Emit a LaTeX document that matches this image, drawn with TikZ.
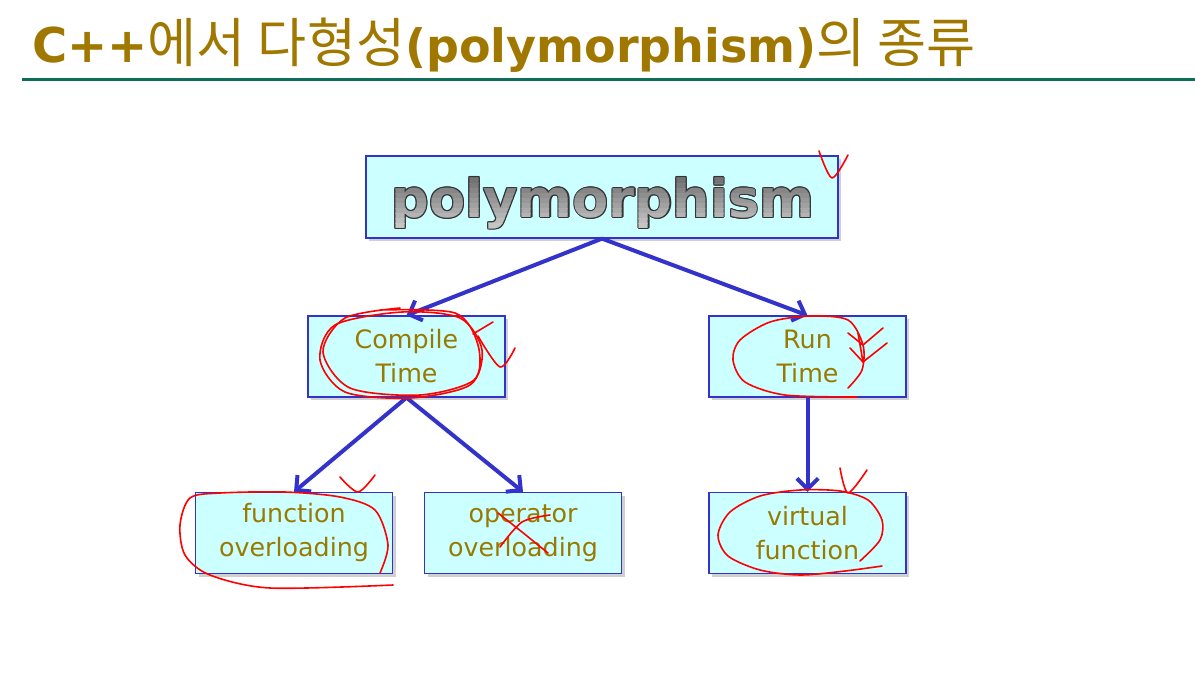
\documentclass[tikz,border=0pt]{standalone}
\usepackage{fontspec}
\setmainfont{DejaVu Sans}
\newfontfamily\krfont{Noto Sans CJK KR}
\usetikzlibrary{arrows.meta,shadows,calc}
\definecolor{titlegold}{RGB}{160,120,0}
\definecolor{boxtext}{RGB}{153,122,0}
\definecolor{boxfill}{RGB}{204,255,255}
\definecolor{boxline}{RGB}{51,51,204}
\definecolor{rulegreen}{RGB}{14,110,90}
\definecolor{arrowblue}{RGB}{51,51,204}
\newcommand\polyfont{\fontsize{39.5}{44}\selectfont\bfseries}
\newcommand\kr[1]{{\krfont\fontsize{40}{44}\selectfont #1}}

\tikzset{
  ybox/.style={draw=boxline, line width=0.9pt, fill=boxfill,
    minimum width=147.75pt, minimum height=60.75pt, inner sep=0pt,
    text=boxtext, font=\fontsize{19}{25.5}\selectfont, align=center,
    drop shadow={shadow xshift=2.5pt, shadow yshift=-2.5pt, opacity=.3, fill=black!60}},
  conn/.style={draw=arrowblue, line width=3pt, -{Straight Barb[length=8pt,width=16pt]}},
  redmark/.style={draw=red, line width=1.2pt, line cap=round, line join=round},
  polytxt/.style={inner sep=0pt, font=\polyfont},
}

\begin{document}
\begin{tikzpicture}[x=0.75pt, y=-0.75pt]
\useasboundingbox (0,0) rectangle (1195,693);
\fill[white] (0,0) rectangle (1195,693);

% title
\node[anchor=base west, inner sep=0pt, text=titlegold, font=\fontsize{36}{40}\selectfont] (title) at (32,62)
  {\textbf{C++}\kr{에서 다형성}{\fontsize{34.5}{40}\selectfont\bfseries(polymorphism)}\kr{의 종류}};
\fill[rulegreen] (22,77.5) rectangle (1195,81);

% top box
\node[ybox, minimum width=354pt, minimum height=61.5pt] (poly) at (602,197) {};
\coordinate (polytext) at (603,203);
\foreach \a in {0,45,...,315}
  \node[polytxt, text=black!80] at ($(polytext)+(\a:1.1)$) {polymorphism};
\foreach \i in {0,...,12}{
  \pgfmathsetmacro\shade{62-3.6*\i}
  \begin{scope}
    \clip (340,{168+5*\i}) rectangle (870,{173.3+5*\i});
    \node[polytxt, text=black!\shade] at (polytext) {polymorphism};
  \end{scope}
}

% boxes
\node[ybox] (comp) at (406.5,356.5) {Compile\\Time};
\node[ybox] (run) at (807.5,356.5) {Run\\Time};
\node[ybox] (func) at (294,533) {function\\overloading};
\node[ybox] (oper) at (523,533) {operator\\overloading};
\node[ybox] (virt) at (807.5,533) {virtual\\function};

% connectors
\draw[conn] (poly.south) -- (comp.north);
\draw[conn] (poly.south) -- (run.north);
\draw[conn] (comp.south) -- (func.north);
\draw[conn] (comp.south) -- (oper.north);
\draw[conn] (run.south) -- (virt.north);

% hand-drawn red marks
\draw[redmark] plot[smooth] coordinates {(819,151) (832,178) (848,155)};
\draw[redmark] plot[smooth cycle] coordinates {(402,312) (460,318) (482,350) (470,385) (410,398) (345,392) (320,360) (335,325)};
\draw[redmark] plot[smooth] coordinates {(380,310) (455,313) (478,345) (474,380) (420,395) (350,388) (323,352) (345,318) (400,308)};
\draw[redmark] (473,334) -- (493,322);
\draw[redmark] plot[smooth] coordinates {(478,336) (500,367) (515,348)};
\draw[redmark] plot[smooth] coordinates {(848,388) (862,370) (863,345) (848,320) (810,316) (770,322) (740,340) (733,360) (745,382) (785,395) (857,397)};
\draw[redmark] (848,333) -- (863,345) -- (883,328);
\draw[redmark] (850,348) -- (863,362) -- (887,343);
\draw[redmark] (858,333) -- (863,362);
\draw[redmark] plot[smooth] coordinates {(380,573) (388,545) (375,510) (340,497) (285,492) (220,493) (190,498) (180,525) (185,555) (210,575) (270,588) (393,585)};
\draw[redmark] plot[smooth] coordinates {(340,477) (358,492) (375,475)};
\draw[redmark] plot[smooth] coordinates {(498,513) (522,532) (548,553)};
\draw[redmark] plot[smooth] coordinates {(500,547) (522,522) (550,515)};
\draw[redmark] plot[smooth] coordinates {(860,561) (880,540) (882,520) (868,500) (840,491) (800,490) (760,496) (730,512) (718,535) (728,556) (760,570) (800,575) (845,571) (882,566)};
\draw[redmark] plot[smooth] coordinates {(840,468) (848,493) (867,470)};
\end{tikzpicture}
\end{document}
